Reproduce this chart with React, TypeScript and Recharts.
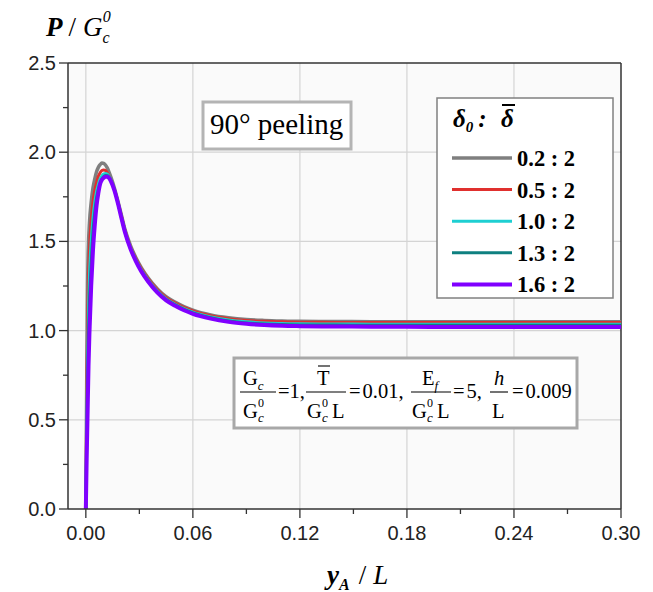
import React from 'react';
import { LineChart, Line, XAxis, YAxis, ReferenceLine, ReferenceArea } from 'recharts';

// ---- data ----
const xValues = [
  0, 0.0005, 0.001, 0.0015, 0.002, 0.003, 0.004, 0.005, 0.006, 0.007, 0.008, 0.009,
  0.010, 0.011, 0.012, 0.013, 0.014, 0.016, 0.018, 0.020, 0.022, 0.025, 0.028, 0.031,
  0.035, 0.040, 0.045, 0.050, 0.055, 0.060, 0.070, 0.080, 0.090, 0.100, 0.110, 0.120,
  0.140, 0.160, 0.180, 0.200, 0.240, 0.270, 0.300,
];

const delta02 = [
  0, 0.73, 1.27, 1.49, 1.6, 1.72, 1.8, 1.85, 1.89, 1.915, 1.93, 1.94,
  1.938, 1.928, 1.912, 1.888, 1.862, 1.8, 1.725, 1.645, 1.565, 1.478, 1.41, 1.355,
  1.295, 1.235, 1.19, 1.16, 1.135, 1.115, 1.088, 1.072, 1.062, 1.057, 1.054, 1.052,
  1.051, 1.05, 1.05, 1.05, 1.05, 1.05, 1.05,
];
const delta05 = [
  0, 0.6, 1.05, 1.3, 1.45, 1.62, 1.72, 1.785, 1.83, 1.865, 1.885, 1.897,
  1.9, 1.897, 1.885, 1.865, 1.845, 1.79, 1.72, 1.64, 1.56, 1.47, 1.405, 1.35,
  1.29, 1.23, 1.185, 1.155, 1.13, 1.11, 1.083, 1.067, 1.057, 1.052, 1.049, 1.047,
  1.046, 1.045, 1.045, 1.045, 1.045, 1.045, 1.045,
];
const delta10 = [
  0, 0.45, 0.85, 1.12, 1.3, 1.5, 1.63, 1.72, 1.78, 1.82, 1.85, 1.867,
  1.877, 1.88, 1.877, 1.863, 1.845, 1.79, 1.718, 1.635, 1.555, 1.465, 1.398, 1.342,
  1.283, 1.223, 1.178, 1.148, 1.123, 1.103, 1.076, 1.059, 1.049, 1.043, 1.04, 1.038,
  1.037, 1.036, 1.035, 1.035, 1.035, 1.035, 1.035,
];
const delta13 = [
  0, 0.38, 0.72, 0.98, 1.15, 1.37, 1.55, 1.66, 1.74, 1.79, 1.825, 1.848,
  1.862, 1.869, 1.868, 1.86, 1.843, 1.79, 1.716, 1.632, 1.552, 1.462, 1.395, 1.338,
  1.279, 1.219, 1.174, 1.144, 1.119, 1.099, 1.072, 1.054, 1.043, 1.037, 1.034, 1.032,
  1.031, 1.03, 1.03, 1.03, 1.03, 1.03, 1.03,
];
const delta16 = [
  0, 0.3, 0.55, 0.8, 0.98, 1.25, 1.45, 1.59, 1.7, 1.77, 1.822, 1.845,
  1.856, 1.862, 1.862, 1.855, 1.838, 1.786, 1.712, 1.628, 1.548, 1.458, 1.39, 1.333,
  1.274, 1.214, 1.169, 1.139, 1.114, 1.094, 1.067, 1.049, 1.038, 1.031, 1.027, 1.025,
  1.023, 1.022, 1.021, 1.02, 1.02, 1.02, 1.02,
];

const legendLabels = ['0.2 : 2', '0.5 : 2', '1.0 : 2', '1.3 : 2', '1.6 : 2'];
const xTicks = [0, 0.03, 0.06, 0.09, 0.12, 0.15, 0.18, 0.21, 0.24, 0.27, 0.3];
const xMajorLabels = ['0.00', '0.06', '0.12', '0.18', '0.24', '0.30'];
const yTicks = [0, 0.25, 0.5, 0.75, 1, 1.25, 1.5, 1.75, 2, 2.25, 2.5];
const yMajorLabels = ['0.0', '0.5', '1.0', '1.5', '2.0', '2.5'];
const xGrid = [0, 0.06, 0.12, 0.18, 0.24];
const yGrid = [0.5, 1, 1.5, 2];

const series = [
  { key: 's02', label: legendLabels[0], color: '#7f7f7f', values: delta02, width: 3.5 },
  { key: 's05', label: legendLabels[1], color: '#e0302e', values: delta05, width: 3 },
  { key: 's10', label: legendLabels[2], color: '#1ecfd2', values: delta10, width: 3 },
  { key: 's13', label: legendLabels[3], color: '#0e8080', values: delta13, width: 3 },
  { key: 's16', label: legendLabels[4], color: '#8000ff', values: delta16, width: 4 },
];

const data = xValues.map((x, i) => {
  const row: Record<string, number> = { x };
  series.forEach((s) => { row[s.key] = s.values[i]; });
  return row;
});

const sans = '"Liberation Sans", Arial, sans-serif';
const serif = '"Liberation Serif", "Times New Roman", serif';
const axisColor = '#333';

const XTick = (props: any) => {
  const { x, y, index } = props;
  const major = index % 2 === 0;
  return (
    <g>
      <line x1={x} x2={x} y1={y} y2={y + (major ? 9 : 5)} stroke={axisColor} strokeWidth={1.3} />
      {major && (
        <text x={x} y={y + 31} textAnchor="middle" fontFamily={sans} fontSize={20} fill="#222">
          {xMajorLabels[index / 2]}
        </text>
      )}
    </g>
  );
};

const YTick = (props: any) => {
  const { x, y, index } = props;
  const major = index % 2 === 0;
  return (
    <g>
      <line x1={x} x2={x - (major ? 9 : 5)} y1={y} y2={y} stroke={axisColor} strokeWidth={1.3} />
      {major && (
        <text x={x - 12} y={y + 7} textAnchor="end" fontFamily={sans} fontSize={20} fill="#222">
          {yMajorLabels[index / 2]}
        </text>
      )}
    </g>
  );
};

// G with subscript c and a stacked superscript 0 (denominator form)
const Gc0 = ({ x, y }: { x: number; y: number }) => (
  <g>
    <text x={x} y={y}>G</text>
    <text x={x + 15} y={y + 4} fontSize={13} fontStyle="italic">c</text>
    <text x={x + 15} y={y - 11} fontSize={12}>0</text>
  </g>
);

const Overlay = () => (
  <svg width={653} height={592} style={{ position: 'absolute', left: 0, top: 0, pointerEvents: 'none' }}>
    {/* y axis title */}
    <text x={46} y={36} fontFamily={serif} fontSize={27} fill="#000">
      <tspan fontWeight="bold" fontStyle="italic">P</tspan>
      <tspan dx={6}>/</tspan>
      <tspan dx={7} fontStyle="italic">G</tspan>
      <tspan fontSize={16} fontStyle="italic" dy={7}>c</tspan>
      <tspan fontSize={16} fontStyle="italic" dx={-7} dy={-21}>0</tspan>
    </text>

    {/* x axis title */}
    <text x={327} y={584} fontFamily={serif} fontSize={27} fill="#000">
      <tspan fontWeight="bold" fontStyle="italic">y</tspan>
      <tspan fontSize={16} fontWeight="bold" fontStyle="italic" dy={6}>A</tspan>
      <tspan dx={9} dy={-6}>/</tspan>
      <tspan dx={7} fontStyle="italic">L</tspan>
    </text>

    {/* 90° peeling box */}
    <rect x={203} y={102} width={148} height={47} fill="#fff" stroke="#b4b4b4" strokeWidth={3} />
    <text x={210} y={134} fontFamily={serif} fontSize={29} fill="#000">90° peeling</text>

    {/* legend */}
    <rect x={437} y={98} width={176} height={200} fill="#fff" stroke="#808080" strokeWidth={1.5} />
    <text x={453} y={127} fontFamily={serif} fontSize={25} fontWeight="bold" fontStyle="italic" fill="#000">
      δ<tspan fontSize={15} dy={5}>0</tspan>
      <tspan dy={-5} dx={5}>:</tspan>
    </text>
    <text x={501} y={127} fontFamily={serif} fontSize={25} fontWeight="bold" fontStyle="italic" fill="#000">δ</text>
    <line x1={502} x2={515} y1={105} y2={105} stroke="#000" strokeWidth={2} />
    {series.map((s, i) => {
      const yy = 158 + i * 31.6;
      return (
        <g key={s.key}>
          <line x1={452} x2={512} y1={yy} y2={yy} stroke={s.color} strokeWidth={s.width} />
          <text x={517} y={yy + 8} fontFamily={serif} fontSize={22.5} fontWeight="bold" fill="#000">{s.label}</text>
        </g>
      );
    })}

    {/* parameter box */}
    <rect x={234} y={358} width={343} height={70} fill="#fff" stroke="#a8a8a8" strokeWidth={3} />
    <g fontFamily={serif} fontSize={20.5} fill="#000">
      {/* Gc / Gc0 */}
      <text x={243} y={385}>G<tspan fontSize={13} fontStyle="italic" dy={5}>c</tspan></text>
      <line x1={240} x2={276} y1={392} y2={392} stroke="#000" strokeWidth={1.1} />
      <Gc0 x={243} y={418} />
      <text x={278} y={398}>=1,</text>
      {/* T / Gc0 L */}
      <text x={317} y={385}>T</text>
      <line x1={318} x2={330} y1={366} y2={366} stroke="#000" strokeWidth={1.1} />
      <line x1={306} x2={346} y1={392} y2={392} stroke="#000" strokeWidth={1.1} />
      <Gc0 x={307} y={418} />
      <text x={332} y={418}>L</text>
      <text x={349} y={398}>=<tspan dx={2}>0.01,</tspan></text>
      {/* Ef / Gc0 L */}
      <text x={422} y={385}>E<tspan fontSize={13} fontStyle="italic" dy={5}>f</tspan></text>
      <line x1={411} x2={451} y1={392} y2={392} stroke="#000" strokeWidth={1.1} />
      <Gc0 x={412} y={418} />
      <text x={437} y={418}>L</text>
      <text x={453} y={398}>=<tspan dx={2}>5,</tspan></text>
      {/* h / L */}
      <text x={494} y={385} fontStyle="italic">h</text>
      <line x1={490} x2={508} y1={392} y2={392} stroke="#000" strokeWidth={1.1} />
      <text x={492} y={418}>L</text>
      <text x={512} y={398}>=<tspan dx={2}>0.009</tspan></text>
    </g>
  </svg>
);

export default function App() {
  return (
    <div style={{ position: 'absolute', left: 0, top: 0, width: 653, height: 592, background: '#fff' }}>
      <LineChart width={653} height={592} data={data} margin={{ top: 63, right: 32, bottom: 0, left: 0 }}>
        <XAxis
          dataKey="x"
          type="number"
          domain={[-0.01, 0.3]}
          ticks={xTicks}
          interval={0}
          tick={<XTick />}
          tickLine={false}
          tickSize={0}
          tickMargin={0}
          height={83}
          stroke={axisColor}
          strokeWidth={1.5}
          allowDataOverflow
        />
        <YAxis
          type="number"
          domain={[0, 2.5]}
          ticks={yTicks}
          interval={0}
          tick={<YTick />}
          tickLine={false}
          tickSize={0}
          tickMargin={0}
          width={68}
          stroke={axisColor}
          strokeWidth={1.5}
          allowDataOverflow
        />
        <ReferenceArea x1={-0.01} x2={0.3} y1={0} y2={2.5} fill="#fafafa" fillOpacity={1} stroke="none" />
        {xGrid.map((v) => (
          <ReferenceLine key={'gx' + v} x={v} stroke="#d4d4d4" strokeWidth={1.2} />
        ))}
        {yGrid.map((v) => (
          <ReferenceLine key={'gy' + v} y={v} stroke="#d4d4d4" strokeWidth={1.2} />
        ))}
        <ReferenceLine y={2.5} stroke={axisColor} strokeWidth={1.5} />
        <ReferenceLine x={0.3} stroke={axisColor} strokeWidth={1.5} />
        {series.map((s) => (
          <Line
            key={s.key}
            dataKey={s.key}
            type="monotone"
            stroke={s.color}
            strokeWidth={s.width}
            dot={false}
            activeDot={false}
            isAnimationActive={false}
          />
        ))}
      </LineChart>
      <Overlay />
    </div>
  );
}
